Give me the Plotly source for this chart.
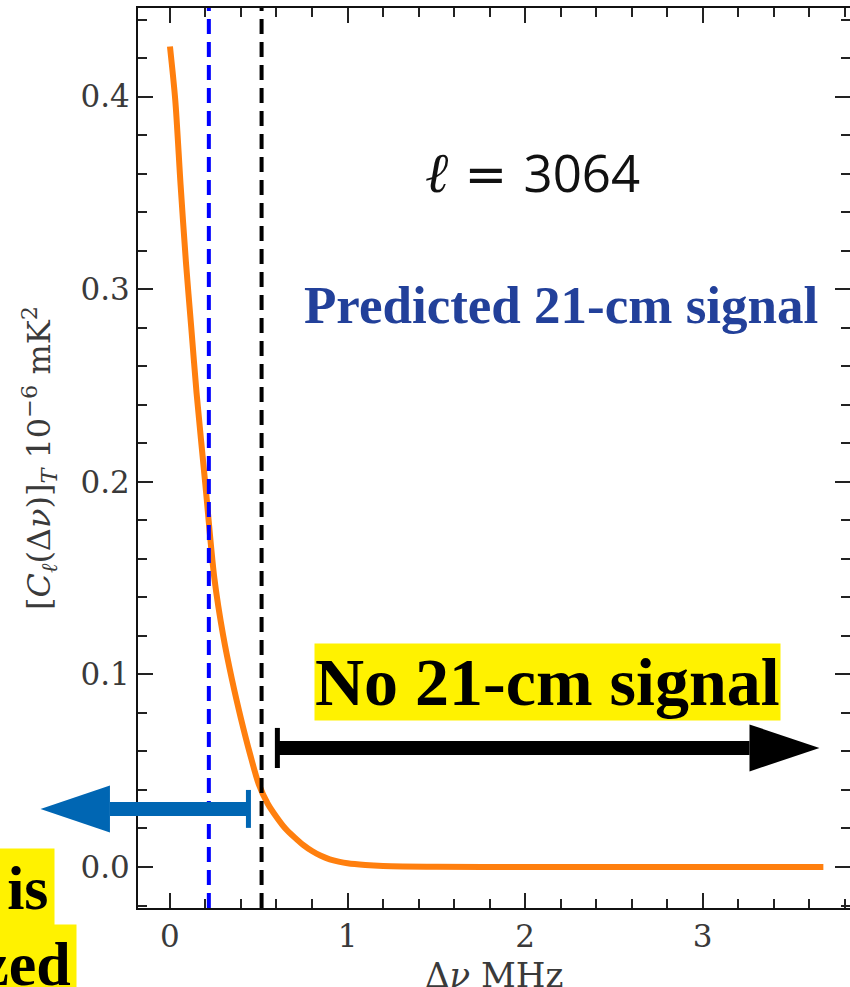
import plotly.graph_objects as go

# ---- data ----
dnu = [0.0, 0.03, 0.06, 0.09, 0.12, 0.15, 0.20, 0.25, 0.30, 0.35, 0.40, 0.45,
       0.50, 0.55, 0.60, 0.65, 0.70, 0.75, 0.80, 0.85, 0.90, 0.95, 1.00, 1.10,
       1.20, 1.50, 2.00, 2.50, 3.00, 3.68]
cl = [0.426, 0.398, 0.354, 0.314, 0.280, 0.246, 0.198, 0.150, 0.120, 0.097,
      0.077, 0.059, 0.043, 0.033, 0.026, 0.020, 0.0155, 0.0115, 0.0083, 0.0058,
      0.0040, 0.0028, 0.0019, 0.0010, 0.0005, 0.0001, 0.0, 0.0, 0.0, 0.0]
blue_line_x = 0.219
black_line_x = 0.516
x_ticks = [0, 1, 2, 3]
y_ticks = [0.0, 0.1, 0.2, 0.3, 0.4]

X_RANGE = [-0.18, 3.83]
Y_RANGE = [-0.0213, 0.446]

# arrows in data units
black_arrow = dict(x_start=0.608, x_head=3.264, x_tip=3.658, y=0.0618,
                   half=0.0036, head_half=0.0122, bar_x=0.605, bar_y=(0.0514, 0.0722))
blue_arrow = dict(x_start=0.442, x_head=-0.338, x_tip=-0.729, y=0.0301,
                  half=0.0036, head_half=0.0122, bar_x=0.442, bar_y=(0.0203, 0.0400))


def px(v):
    return (v - X_RANGE[0]) / (X_RANGE[1] - X_RANGE[0])


def py(v):
    return (v - Y_RANGE[0]) / (Y_RANGE[1] - Y_RANGE[0])


fig = go.Figure()
fig.add_trace(go.Scatter(x=dnu, y=cl, mode="lines",
                         line=dict(color="#ff7f0e", width=6, shape="spline", smoothing=0.8),
                         showlegend=False, hoverinfo="skip"))

for xv, col in [(blue_line_x, "#0000ff"), (black_line_x, "#000000")]:
    fig.add_shape(type="line", xref="x", yref="paper", x0=xv, x1=xv, y0=0, y1=1,
                  line=dict(color=col, width=4, dash="15px,8px"))


def arrow_shapes(a, color):
    shapes = []
    shapes.append(dict(type="rect", xref="paper", yref="paper",
                       x0=px(min(a["x_start"], a["x_head"])), x1=px(max(a["x_start"], a["x_head"])),
                       y0=py(a["y"] - a["half"]), y1=py(a["y"] + a["half"]),
                       fillcolor=color, line=dict(width=0), layer="above"))
    path = "M {a},{b} L {c},{d} L {e},{f} Z".format(
        a=px(a["x_head"]), b=py(a["y"] - a["head_half"]),
        c=px(a["x_tip"]), d=py(a["y"]),
        e=px(a["x_head"]), f=py(a["y"] + a["head_half"]))
    shapes.append(dict(type="path", xref="paper", yref="paper", path=path,
                       fillcolor=color, line=dict(width=0), layer="above"))
    shapes.append(dict(type="line", xref="paper", yref="paper",
                       x0=px(a["bar_x"]), x1=px(a["bar_x"]),
                       y0=py(a["bar_y"][0]), y1=py(a["bar_y"][1]),
                       line=dict(color=color, width=5), layer="above"))
    return shapes


for s in arrow_shapes(black_arrow, "#000000") + arrow_shapes(blue_arrow, "#0066b3"):
    fig.add_shape(**s)

serif = "Liberation Serif, Times New Roman, serif"
cm_like = "DejaVu Serif, serif"

fig.add_annotation(x=2.04, y=0.361, xref="x", yref="y", showarrow=False,
                   text='<span style="font-family:Liberation Serif;font-size:56px"><i>ℓ</i></span>'
                        '<span style="font-family:DejaVu Sans">&nbsp;=&nbsp;</span>'
                        '<span style="font-family:Open Sans">3064</span>',
                   font=dict(size=51, color="#111111", family="Open Sans"))
fig.add_annotation(x=2.203, y=0.292, xref="x", yref="y", showarrow=False,
                   text="<b>Predicted 21-cm signal</b>",
                   font=dict(size=53, color="#22409a", family=serif))
fig.add_annotation(x=2.127, y=0.0958, xref="x", yref="y", showarrow=False,
                   text="<b>No 21-cm signal</b>", bgcolor="#fff200", borderpad=0,
                   font=dict(size=68, color="#000000", family=serif))
fig.add_annotation(x=px(-0.647), y=py(-0.0109), xref="paper", yref="paper", showarrow=False,
                   xanchor="right", yanchor="middle",
                   text="<b>Foreground is</b>", bgcolor="#fff200", borderpad=5,
                   font=dict(size=62, color="#000000", family=serif))
fig.add_annotation(x=px(-0.523), y=py(-0.0504), xref="paper", yref="paper", showarrow=False,
                   xanchor="right", yanchor="middle",
                   text="<b>localized</b>", bgcolor="#fff200", borderpad=5,
                   font=dict(size=62, color="#000000", family=serif))
# x-axis title, placed under the tick labels
fig.add_annotation(x=0.5, y=-0.0744, xref="paper", yref="paper", showarrow=False,
                   xanchor="center", yanchor="middle",
                   text="Δ<i>ν</i> MHz",
                   font=dict(family=cm_like, size=34, color="#3a3a3a"))

axis_common = dict(showline=True, linewidth=2, linecolor="#111111", mirror="allticks",
                   ticks="inside", ticklen=15, tickwidth=2, tickcolor="#222222",
                   showgrid=False, zeroline=False, automargin=False,
                   tickfont=dict(family=cm_like, size=31, color="#3a3a3a"))

fig.update_xaxes(range=X_RANGE, tickvals=x_ticks, ticktext=[str(v) for v in x_ticks],
                 minor=dict(ticks="inside", dtick=0.2, tick0=0, ticklen=9, tickwidth=1.5,
                            tickcolor="#222222"),
                 **axis_common)
fig.update_yaxes(range=Y_RANGE, tickvals=y_ticks, ticktext=["%.1f" % v for v in y_ticks],
                 minor=dict(ticks="inside", dtick=0.02, tick0=0, ticklen=9, tickwidth=1.5,
                            tickcolor="#222222"),
                 title=dict(text="[<i>C</i><sub><i>ℓ</i></sub>(Δ<i>ν</i>)]<sub><i>T</i></sub> 10<sup>−6</sup> mK<sup>2</sup>",
                            standoff=20, font=dict(family=cm_like, size=32, color="#3a3a3a")),
                 **axis_common)

fig.update_layout(width=850, height=987, margin=dict(l=138, r=0, t=8, b=79),
                  plot_bgcolor="white", paper_bgcolor="white", showlegend=False)

fig.write_html("out.html")
